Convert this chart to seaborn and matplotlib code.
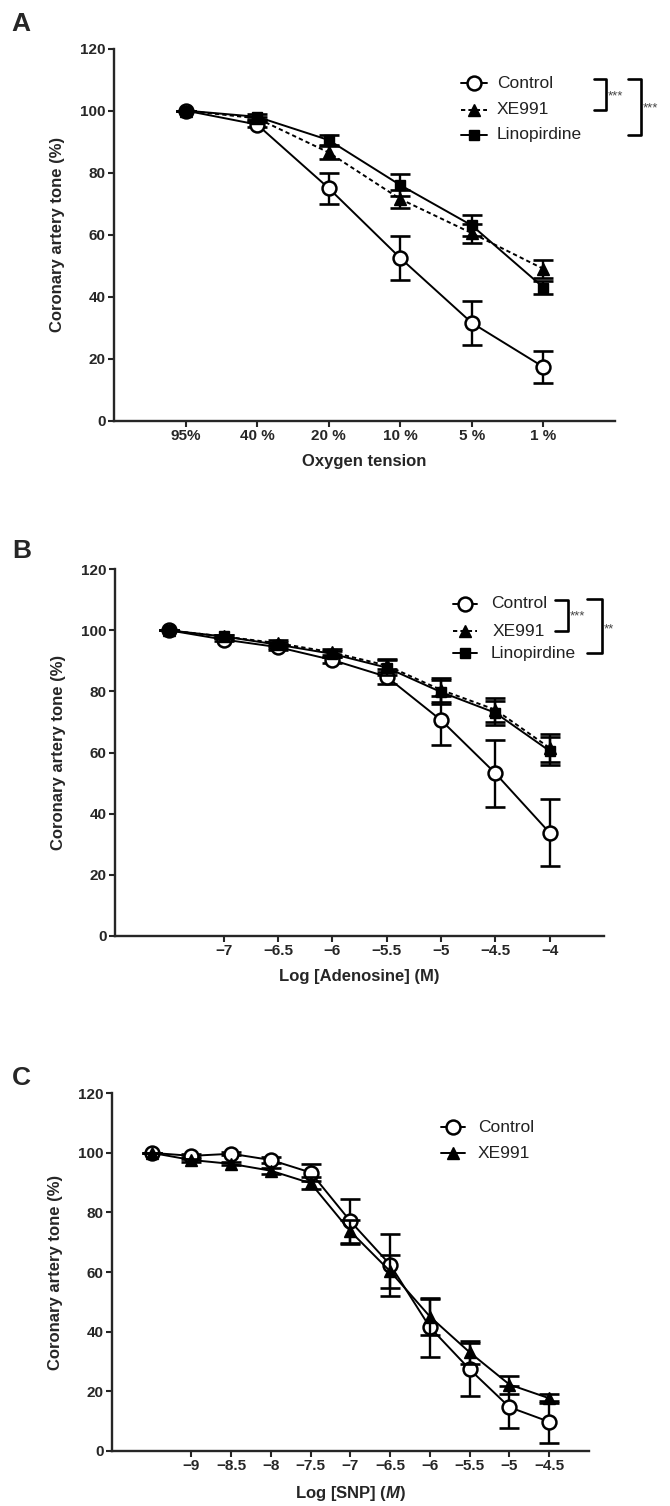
import matplotlib
matplotlib.use("Agg")
import matplotlib.pyplot as plt
from matplotlib.lines import Line2D
import seaborn as sns
import pandas as pd

sns.set_style("ticks")
plt.rcParams["font.family"] = ["Liberation Sans", "DejaVu Sans"]
plt.rcParams["mathtext.fontset"] = "custom"
plt.rcParams["mathtext.it"] = "Liberation Sans:italic:bold"
plt.rcParams["mathtext.rm"] = "Liberation Sans:bold"

# ---------------- data ----------------
# Panel A: oxygen tension
a_labels = ["95%", "40 %", "20 %", "10 %", "5 %", "1 %"]
a_control = [100, 95.5, 75, 52.5, 31.6, 17.4]
a_control_err = [0, 0.8, 5, 7, 7, 5]
a_xe991 = [100, 97.5, 86.5, 71.5, 60.5, 49]
a_xe991_err = [0, 0.5, 2, 3, 3, 3]
a_lino = [100, 98, 90.5, 76, 63, 43]
a_lino_err = [0, 1, 1.5, 3.5, 3.5, 2]

# Panel B: adenosine
b_logc = [-7.5, -7, -6.5, -6, -5.5, -5, -4.5, -4]
b_ticks = [-7, -6.5, -6, -5.5, -5, -4.5, -4]
b_control = [100, 97, 94.5, 90.3, 84.8, 70.6, 53.2, 33.7]
b_control_err = [0, 0.5, 1, 1, 2.5, 8, 11, 11]
b_xe991 = [100, 98, 95.8, 92.8, 88.5, 80.5, 74, 61.5]
b_xe991_err = [0, 0.5, 1, 1, 2, 4, 4, 4.5]
b_lino = [100, 98, 95.3, 92.3, 87.8, 79.8, 73, 60.5]
b_lino_err = [0, 0.5, 1, 1, 2.5, 4, 4, 4.5]

# Panel C: SNP
c_logc = [-9.5, -9, -8.5, -8, -7.5, -7, -6.5, -6, -5.5, -5, -4.5]
c_ticks = [-9, -8.5, -8, -7.5, -7, -6.5, -6, -5.5, -5, -4.5]
c_control = [100, 99, 99.7, 97.6, 93.4, 77, 62.4, 41.4, 27.3, 14.6, 9.7]
c_control_err = [0, 0.5, 0.5, 1, 3, 7.5, 10.5, 10, 9, 7, 7]
c_xe991 = [100, 97.6, 96.3, 94, 89.8, 73.6, 60.2, 45, 33, 22.2, 17.6]
c_xe991_err = [0, 0.5, 0.5, 1, 2, 4, 5.5, 6, 4, 3, 1.5]

W, H = 670, 1506
fig = plt.figure(figsize=(W / 100, H / 100), dpi=100)


def box(l, t, r, b):
    return [l / W, 1 - b / H, (r - l) / W, (b - t) / H]


def fp(x, y):
    return (x / W, 1 - y / H)


dash = (0, (2.2, 1.6))
styles = {
    "Control": dict(marker="o", ms=10, mfc="white", mec="black", mew=1.8, ls="-"),
    "XE991": dict(marker="^", ms=8, mfc="black", mec="black", mew=1, ls=dash),
    "XE991 solid": dict(marker="^", ms=8, mfc="black", mec="black", mew=1, ls="-"),
    "Linopirdine": dict(marker="s", ms=7.5, mfc="black", mec="black", mew=1, ls="-"),
}


def draw_series(ax, x, y, err, key, z):
    st = styles[key]
    ax.errorbar(x, y, yerr=err, fmt="none", ecolor="black", elinewidth=1.7,
                capsize=7.5, capthick=1.9, zorder=z)
    sns.lineplot(x=x, y=y, ax=ax, color="black", lw=1.4, linestyle=st["ls"],
                 marker=st["marker"], markersize=st["ms"], markerfacecolor=st["mfc"],
                 markeredgecolor=st["mec"], markeredgewidth=st["mew"], zorder=z + 1)


def style_axes(ax, xlabel):
    for s in ["top", "right"]:
        ax.spines[s].set_visible(False)
    for s in ["left", "bottom"]:
        ax.spines[s].set_linewidth(1.7)
    ax.set_ylim(0, 120)
    ax.set_yticks(range(0, 121, 20))
    ax.tick_params(axis="both", length=4, width=1.5, pad=2, labelsize=11)
    for lab in ax.get_xticklabels() + ax.get_yticklabels():
        lab.set_fontweight("bold")
    ax.set_ylabel("Coronary artery tone (%)", fontsize=12, fontweight="bold", labelpad=11)
    ax.set_xlabel(xlabel, fontsize=12, fontweight="bold", labelpad=8)


def legend_row(x0, x1, y, key, text, tx):
    st = styles[key]
    fig.add_artist(Line2D([x0 / W, x1 / W], [1 - y / H] * 2, color="black", lw=1.4,
                          linestyle=st["ls"], transform=fig.transFigure))
    xm = (x0 + x1) / 2
    fig.add_artist(Line2D([xm / W], [1 - y / H], color="black", marker=st["marker"],
                          ms=st["ms"], mfc=st["mfc"], mec=st["mec"], mew=st["mew"],
                          transform=fig.transFigure))
    fig.text(*fp(tx, y), text, fontsize=12.5, va="center", ha="left", color="#222222")


def bracket(x_arm, x_bar, y_top, y_bot, stars, sx, sy):
    xs = [x_arm, x_bar, x_bar, x_arm]
    ys = [y_top, y_top, y_bot, y_bot]
    fig.add_artist(Line2D([v / W for v in xs], [1 - v / H for v in ys], color="black",
                          lw=1.9, transform=fig.transFigure))
    fig.text(*fp(sx, sy), stars, fontsize=9.5, color="#444444", va="center", ha="left")


# ---------------- Panel A ----------------
axA = fig.add_axes(box(114, 48.5, 615, 421))
xa = list(range(len(a_labels)))
draw_series(axA, xa, a_control, a_control_err, "Control", 3)
draw_series(axA, xa, a_xe991, a_xe991_err, "XE991", 5)
draw_series(axA, xa, a_lino, a_lino_err, "Linopirdine", 7)
axA.set_xlim(-1, 6)
axA.set_xticks(xa)
axA.set_xticklabels(a_labels)
style_axes(axA, "Oxygen tension")

legend_row(461, 487, 83, "Control", "Control", 497)
legend_row(461, 487, 110, "XE991", "XE991", 497)
legend_row(461, 487, 135, "Linopirdine", "Linopirdine", 497)
bracket(594, 606, 79, 110, "***", 608, 96)
bracket(628, 641, 79, 135, "***", 643, 108)

# ---------------- Panel B ----------------
axB = fig.add_axes(box(115, 569.3, 604, 935.7))
draw_series(axB, b_logc, b_control, b_control_err, "Control", 3)
draw_series(axB, b_logc, b_xe991, b_xe991_err, "XE991", 5)
draw_series(axB, b_logc, b_lino, b_lino_err, "Linopirdine", 7)
axB.set_xlim(-8, -3.5)
axB.set_xticks(b_ticks)
axB.set_xticklabels([f"{t:g}".replace("-", "\u2212") for t in b_ticks])
style_axes(axB, "Log [Adenosine] (M)")

legend_row(453, 477, 604, "Control", "Control", 491)
legend_row(453, 477, 631, "XE991", "XE991", 493)
legend_row(453, 477, 653, "Linopirdine", "Linopirdine", 491)
bracket(555, 568, 600, 631, "***", 570, 616)
bracket(587, 602, 599, 653, "**", 604, 629)

# ---------------- Panel C ----------------
axC = fig.add_axes(box(112, 1093.3, 589, 1450.7))
draw_series(axC, c_logc, c_control, c_control_err, "Control", 3)
draw_series(axC, c_logc, c_xe991, c_xe991_err, "XE991 solid", 5)
axC.set_xlim(-10, -4)
axC.set_xticks(c_ticks)
axC.set_xticklabels([f"{t:g}".replace("-", "\u2212") for t in c_ticks])
style_axes(axC, r"Log [SNP] ($\mathit{M}$)")

legend_row(441, 465, 1127, "Control", "Control", 478)
legend_row(441, 465, 1153, "XE991 solid", "XE991", 478)

# panel letters
for letter, (x, y) in zip("ABC", [(21, 24), (22, 551), (21, 1078)]):
    fig.text(*fp(x, y), letter, fontsize=19, fontweight="bold", ha="center", va="center")

fig.savefig("out.png", dpi=100)
